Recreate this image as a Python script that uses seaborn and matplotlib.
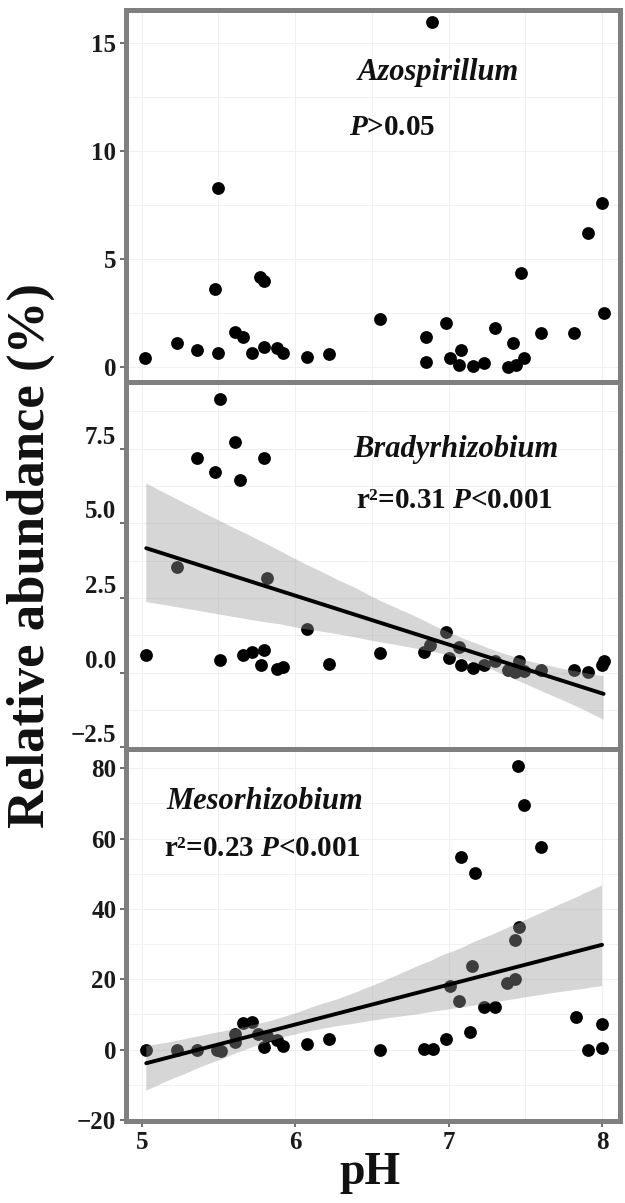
import numpy as np
import pandas as pd
import matplotlib
matplotlib.use("Agg")
import matplotlib.pyplot as plt
import matplotlib.transforms as mtransforms
from matplotlib.collections import PolyCollection
import seaborn as sns

# ---------------- data ----------------
ph_azo = [5.02, 5.23, 5.36, 5.50, 5.48, 5.50, 5.61, 5.66, 5.72, 5.77, 5.80, 5.80,
          5.88, 5.92, 6.08, 6.22, 6.55, 6.89, 6.85, 6.85, 6.98, 7.01, 7.08, 7.07,
          7.16, 7.23, 7.30, 7.42, 7.39, 7.44, 7.49, 7.47, 7.60, 7.82, 7.91, 8.00, 8.01]
azo = [0.39, 1.11, 0.77, 8.26, 3.58, 0.62, 1.62, 1.39, 0.65, 4.14, 3.98, 0.93,
       0.85, 0.65, 0.46, 0.59, 2.21, 15.97, 1.36, 0.22, 2.01, 0.39, 0.77, 0.08,
       0.05, 0.15, 1.78, 1.08, 0.00, 0.08, 0.39, 4.32, 1.54, 1.54, 6.17, 7.56, 2.47]

ph_brady = [5.51, 5.36, 5.48, 5.61, 5.64, 5.80, 5.23, 5.82, 5.03, 5.51, 5.66, 5.72,
            5.80, 5.78, 5.88, 5.92, 6.08, 6.22, 6.55, 6.84, 6.88, 6.98, 7.00, 7.07,
            7.08, 7.16, 7.23, 7.30, 7.39, 7.43, 7.46, 7.49, 7.60, 7.82, 7.91, 8.00, 8.01]
brady = [9.15, 7.17, 6.70, 7.72, 6.45, 7.20, 3.52, 3.16, 0.60, 0.43, 0.58, 0.69,
         0.76, 0.25, 0.13, 0.18, 1.46, 0.29, 0.65, 0.69, 0.93, 1.37, 0.49, 0.87,
         0.26, 0.16, 0.25, 0.38, 0.07, 0.02, 0.40, 0.05, 0.07, 0.07, 0.02, 0.26, 0.38]

ph_meso = [7.45, 7.49, 7.60, 7.08, 7.17, 7.46, 7.43, 7.15, 7.01, 7.38, 7.43, 7.07,
           7.23, 7.30, 7.14, 6.98, 6.84, 6.90, 6.55, 7.83, 8.00, 7.91, 8.00, 5.03,
           5.23, 5.36, 5.49, 5.52, 5.61, 5.61, 5.66, 5.72, 5.76, 5.80, 5.82, 5.88,
           5.92, 6.08, 6.22]
meso = [80.7, 69.7, 57.6, 54.8, 50.3, 34.9, 31.3, 23.7, 18.0, 19.0, 20.2, 13.7,
        12.0, 12.0, 5.0, 3.1, 0.3, 0.3, 0.0, 9.4, 7.3, 0.0, 0.6, 0.0,
        0.0, 0.0, -0.2, -0.3, 2.2, 4.5, 7.5, 7.8, 4.5, 0.8, 4.0, 2.6,
        1.0, 1.7, 3.1]

ph_ticks = [5, 6, 7, 8]
yticks_azo = [0, 5, 10, 15]
yticks_brady = [-2.5, 0.0, 2.5, 5.0, 7.5]
ylabels_brady = ["\u22122.5", "0.0", "2.5", "5.0", "7.5"]
yticks_meso = [-20, 0, 20, 40, 60, 80]
ylabels_meso = ["\u221220", "0", "20", "40", "60", "80"]

# ---------------- style ----------------
sns.set_theme(style="white")
plt.rcParams["font.family"] = ["Liberation Serif", "DejaVu Serif"]
plt.rcParams["font.weight"] = "bold"
plt.rcParams["mathtext.fontset"] = "custom"
plt.rcParams["mathtext.rm"] = "Liberation Serif:bold"
plt.rcParams["mathtext.it"] = "Liberation Serif:italic:bold"
plt.rcParams["mathtext.bf"] = "Liberation Serif:bold"
plt.rcParams["axes.unicode_minus"] = True

W, H = 625, 1203
fig = plt.figure(figsize=(W / 100, H / 100), dpi=100)
fig.patch.set_facecolor("white")

left_px, right_px = 126, 620
panels_px = [(10, 382), (382, 749), (749, 1121)]
axes = []
for top, bot in panels_px:
    ax = fig.add_axes([left_px / W, 1 - bot / H, (right_px - left_px) / W, (bot - top) / H])
    axes.append(ax)

border_col = "#7f7f7f"
tick_kw = dict(labelsize=18, length=4, width=1.2, color="#555555", labelcolor="#1a1a1a", pad=3)


def style_axis(ax, ylim, yticks, ylabels=None, show_x=False):
    ax.set_yticks(yticks)
    if ylabels is not None:
        ax.set_yticklabels(ylabels)
    ax.set_xticks(ph_ticks)
    minor_x = [4.5 + i for i in range(5)]
    ax.set_xticks(minor_x, minor=True)
    ys = np.array(yticks, dtype=float)
    step = ys[1] - ys[0]
    ax.set_yticks(list(ys - step / 2) + [ys[-1] + step / 2], minor=True)
    ax.set_xlim(4.898, 8.117)
    ax.set_ylim(*ylim)
    ax.grid(True, which="major", color="#f0f0f0", lw=0.8, zorder=0)
    ax.grid(True, which="minor", color="#f0f0f0", lw=0.6, zorder=0)
    ax.set_axisbelow(True)
    ax.tick_params(axis="y", which="major", left=True, **tick_kw)
    ax.tick_params(axis="y", which="minor", left=False)
    ax.tick_params(axis="x", which="minor", bottom=False)
    if show_x:
        ax.tick_params(axis="x", which="major", bottom=True, **tick_kw)
    else:
        ax.tick_params(axis="x", which="major", bottom=False, labelbottom=False)
    for lab in ax.get_yticklabels() + ax.get_xticklabels():
        lab.set_fontweight("bold")
    for sp in ax.spines.values():
        sp.set_visible(True)
        sp.set_color(border_col)
        sp.set_linewidth(3.6)
        sp.set_zorder(10)
    ax.set_xlabel("")
    ax.set_ylabel("")
    ax.set_facecolor("white")


pt_kw = dict(s=85, color="black", linewidths=0, zorder=2, alpha=1.0)


def recolor_band(ax):
    for coll in ax.collections:
        if isinstance(coll, PolyCollection):
            coll.set_facecolor((0.6, 0.6, 0.6, 0.4))
            coll.set_edgecolor("none")
            coll.set_alpha(0.4)
            coll.set_zorder(3)


txt_kw = dict(fontweight="bold", ha="center", va="center", color="#111111")

# Panel 1: Azospirillum
ax1 = axes[0]
df1 = pd.DataFrame({"pH": ph_azo, "abund": azo})
sns.scatterplot(data=df1, x="pH", y="abund", ax=ax1, legend=False, **pt_kw)
style_axis(ax1, (-0.71, 16.51), yticks_azo)
ax1.text(6.93, 13.6, "Azospirillum", style="italic", fontsize=22, **txt_kw)
ax1.text(6.63, 11.07, r"$\mathit{P}$>0.05", fontsize=21, **txt_kw)

# Panel 2: Bradyrhizobium
ax2 = axes[1]
df2 = pd.DataFrame({"pH": ph_brady, "abund": brady})
sns.regplot(data=df2, x="pH", y="abund", ax=ax2, ci=95, n_boot=1000, seed=3,
            scatter_kws=pt_kw, line_kws=dict(color="black", lw=2.8, zorder=4),
            color="black")
recolor_band(ax2)
style_axis(ax2, (-2.56, 9.73), yticks_brady, ylabels_brady)
ax2.text(7.05, 7.47, "Bradyrhizobium", style="italic", fontsize=22, **txt_kw)
ax2.text(7.04, 5.75, "r\u00b2=0.31 $\\mathit{P}$<0.001", fontsize=21, **txt_kw)
offset = mtransforms.ScaledTranslation(0, 14 / 100, fig.dpi_scale_trans)
for lab in ax2.get_yticklabels():
    lab.set_transform(lab.get_transform() + offset)

# Panel 3: Mesorhizobium
ax3 = axes[2]
df3 = pd.DataFrame({"pH": ph_meso, "abund": meso})
sns.regplot(data=df3, x="pH", y="abund", ax=ax3, ci=95, n_boot=1000, seed=3,
            scatter_kws=pt_kw, line_kws=dict(color="black", lw=2.8, zorder=4),
            color="black")
recolor_band(ax3)
style_axis(ax3, (-20.3, 85.5), yticks_meso, ylabels_meso, show_x=True)
ax3.text(5.80, 70.7, "Mesorhizobium", style="italic", fontsize=22, **txt_kw)
ax3.text(5.79, 57.1, "r\u00b2=0.23 $\\mathit{P}$<0.001", fontsize=21, **txt_kw)

fig.text(31 / W, 1 - 556 / H, "Relative abundance (%)", rotation=90, fontsize=38,
         fontweight="bold", ha="center", va="center", color="#111111")
fig.text(370 / W, 1 - 1173 / H, "pH", fontsize=33, fontweight="bold",
         ha="center", va="center", color="#111111")

fig.savefig("out.png", dpi=100, facecolor="white")
